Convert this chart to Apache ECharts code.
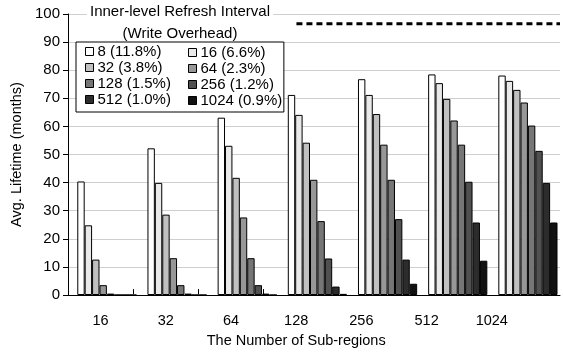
<!DOCTYPE html>
<html><head><meta charset="utf-8">
<script src="https://cdn.jsdelivr.net/npm/echarts@6/dist/echarts.min.js"></script>
<style>html,body{margin:0;padding:0;background:#fff}#c{width:563px;height:353px}</style>
</head><body><div id="c"></div>
<script>
const categories = ['16', '32', '64', '128', '256', '512', '1024'];
const seriesNames = ['8 (11.8%)', '16 (6.6%)', '32 (3.8%)', '64 (2.3%)', '128 (1.5%)', '256 (1.2%)', '512 (1.0%)', '1024 (0.9%)'];
const s8    = [40.4, 52.2, 63.1, 71.2, 76.8, 78.5, 78.1];
const s16   = [24.8, 39.9, 53.1, 64.1, 71.2, 75.4, 76.2];
const s32   = [12.6, 28.6, 41.7, 54.2, 64.4, 69.8, 73.0];
const s64   = [3.5, 13.1, 27.6, 41.0, 53.5, 62.1, 68.5];
const s128  = [0.5, 3.5, 13.1, 26.3, 41.0, 53.5, 60.3];
const s256  = [0, 0.5, 3.5, 13.0, 27.0, 40.3, 51.3];
const s512  = [0, 0, 0.5, 3.0, 12.6, 25.8, 39.9];
const s1024 = [0, 0, 0, 0.4, 4.0, 12.2, 25.8];
const yTicks = [0, 10, 20, 30, 40, 50, 60, 70, 80, 90, 100];
// reference (dashed) lifetime line, x in category-band units
const refLineX = [3.25, 7];
const refLineY = 96.5;

const seriesValues = [s8, s16, s32, s64, s128, s256, s512, s1024];
const colors = ['#ffffff', '#e9e9e9', '#c0c0c0', '#979797', '#767676', '#505050', '#2c2c2c', '#111111'];
const font = 'Liberation Sans, Arial, sans-serif';

const chart = echarts.init(document.getElementById('c'), null, {renderer: 'canvas'});
const grids = [
  {left: 68, top: 14, width: 492, height: 281},
  {left: 68, top: 14, width: 456.4, height: 281},
  {left: 71.8, top: 14, width: 492, height: 281}
];
const series = seriesValues.map((vals, i) => ({
  name: seriesNames[i], type: 'bar', xAxisIndex: 2, yAxisIndex: 2,
  data: vals, barWidth: 7.4, barGap: '0%', barCategoryGap: '0%',
  itemStyle: {color: colors[i], borderColor: '#000', borderWidth: 1},
  emphasis: {disabled: true}, animation: false
}));
series.push({
  type: 'line', xAxisIndex: 0, yAxisIndex: 0, symbol: 'none', silent: true,
  data: refLineX.map(x => [x, refLineY]),
  lineStyle: {color: '#000', width: 3, type: [6, 4]}, animation: false, z: 5
});
const legendCommon = {
  orient: 'vertical', itemWidth: 8, itemHeight: 8, itemGap: 1, icon: 'rect',
  itemStyle: {borderColor: '#000', borderWidth: 1},
  textStyle: {fontFamily: font, fontSize: 15, color: '#000', padding: [0, 0, 0, -1], width: 72, overflow: 'none'},
  selectedMode: false, z: 8
};
chart.setOption({
  backgroundColor: '#fff',
  animation: false,
  title: {
    text: 'Inner-level Refresh Interval', subtext: '(Write Overhead)',
    left: 177, top: 3, textAlign: 'center', itemGap: 7, z: 1,
    backgroundColor: '#fff', padding: [1, 3, 1, 3],
    textStyle: {fontFamily: font, fontSize: 15, fontWeight: 'normal', color: '#000'},
    subtextStyle: {fontFamily: font, fontSize: 15, color: '#000'}
  },
  legend: [
    Object.assign({}, legendCommon, {
      data: [seriesNames[0], seriesNames[2], seriesNames[4], seriesNames[6]],
      left: 76, top: 42, padding: [2, 113, 5, 9],
      borderColor: '#000', borderWidth: 1, backgroundColor: '#fff'
    }),
    Object.assign({}, legendCommon, {
      data: [seriesNames[1], seriesNames[3], seriesNames[5], seriesNames[7]],
      left: 188, top: 43, padding: [2, 0, 0, 0], z: 9
    })
  ],
  grid: grids,
  xAxis: [
    {type: 'value', gridIndex: 0, min: 0, max: 7, axisLabel: {show: false}, axisTick: {show: false},
     splitLine: {show: false}, axisLine: {show: true, onZero: false, lineStyle: {color: '#000', width: 1}}},
    {type: 'category', gridIndex: 1, data: categories, boundaryGap: true,
     axisLine: {show: false},
     axisTick: {show: true, length: 5, lineStyle: {color: '#000'}},
     axisLabel: {margin: 24, fontFamily: font, fontSize: 14.5, color: '#000'},
     name: 'The Number of Sub-regions', nameLocation: 'middle', nameGap: 39,
     nameTextStyle: {fontFamily: font, fontSize: 14.5, color: '#000'}},
    {type: 'category', gridIndex: 2, data: categories, show: false}
  ],
  yAxis: [
    {type: 'value', gridIndex: 0, min: 0, max: 100, interval: 10,
     axisLine: {show: true, lineStyle: {color: '#000', width: 1}},
     axisTick: {show: true, length: 5, lineStyle: {color: '#000'}},
     axisLabel: {margin: 8, fontFamily: font, fontSize: 15, color: '#000',
                 customValues: yTicks},
     splitLine: {show: true, lineStyle: {color: '#cfcfcf', width: 1}},
     name: 'Avg. Lifetime (months)', nameLocation: 'middle', nameGap: 41,
     nameTextStyle: {fontFamily: font, fontSize: 14.5, color: '#000'}},
    {type: 'value', gridIndex: 1, min: 0, max: 100, show: false, splitLine: {show: false}},
    {type: 'value', gridIndex: 2, min: 0, max: 100, show: false, splitLine: {show: false}}
  ],
  series: series
});
</script></body></html>
